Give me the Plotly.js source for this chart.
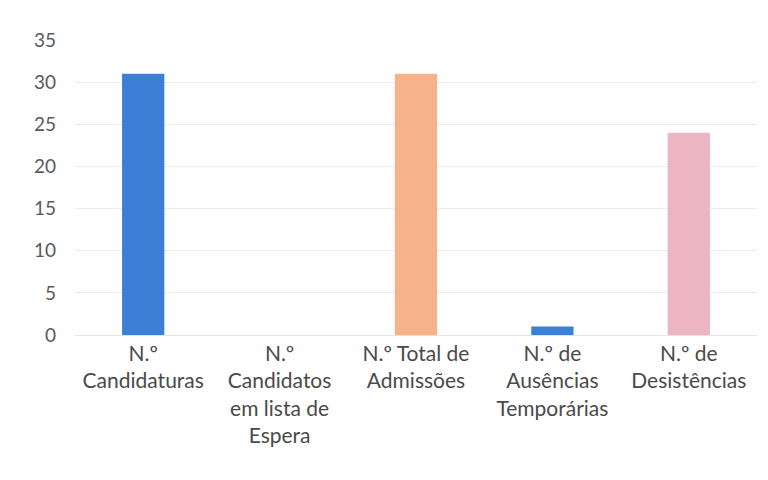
<!DOCTYPE html>
<html>
<head>
<meta charset="utf-8">
<script src="https://cdn.plot.ly/plotly-3.0.1.min.js"></script>
<style>html,body{margin:0;padding:0;background:#fff;}#chart{width:768px;height:480px;}</style>
</head>
<body>
<div id="chart"></div>
<script>
var categories = [
  "N.º<br>Candidaturas",
  "N.º<br>Candidatos<br>em lista de<br>Espera",
  "N.º Total de<br>Admissões",
  "N.º de<br>Ausências<br>Temporárias",
  "N.º de<br>Desistências"
];
var values = [31, 0, 31, 1, 24];
var barColors = ["#3b7fd6", "#3b7fd6", "#f6b289", "#3b7fd6", "#ecb5c1"];
var yTicks = [0, 5, 10, 15, 20, 25, 30, 35];

var trace = {
  type: "bar",
  x: categories,
  y: values,
  width: 0.31,
  marker: {color: barColors},
  hoverinfo: "none"
};

var layout = {
  width: 768,
  height: 480,
  margin: {l: 75, r: 11, t: 40, b: 145},
  paper_bgcolor: "#ffffff",
  plot_bgcolor: "#ffffff",
  showlegend: false,
  font: {family: "Lato, 'Noto Sans', sans-serif", color: "#555555"},
  xaxis: {
    type: "category",
    range: [-0.5, 4.5],
    showgrid: false,
    zeroline: false,
    showline: false,
    ticks: "",
    tickangle: 0,
    ticklabelstandoff: 4,
    tickfont: {size: 21, color: "#4a4a4a"}
  },
  yaxis: {
    range: [0, 35],
    tickvals: yTicks,
    ticktext: yTicks.map(String),
    showgrid: true,
    gridcolor: "#ececec",
    gridwidth: 1,
    zeroline: true,
    zerolinecolor: "#e4e4e4",
    showline: false,
    ticks: "",
    ticklabelstandoff: 18,
    tickfont: {size: 19, color: "#5a5a5a"}
  }
};

Plotly.newPlot("chart", [trace], layout, {displayModeBar: false, staticPlot: true});
</script>
</body>
</html>
